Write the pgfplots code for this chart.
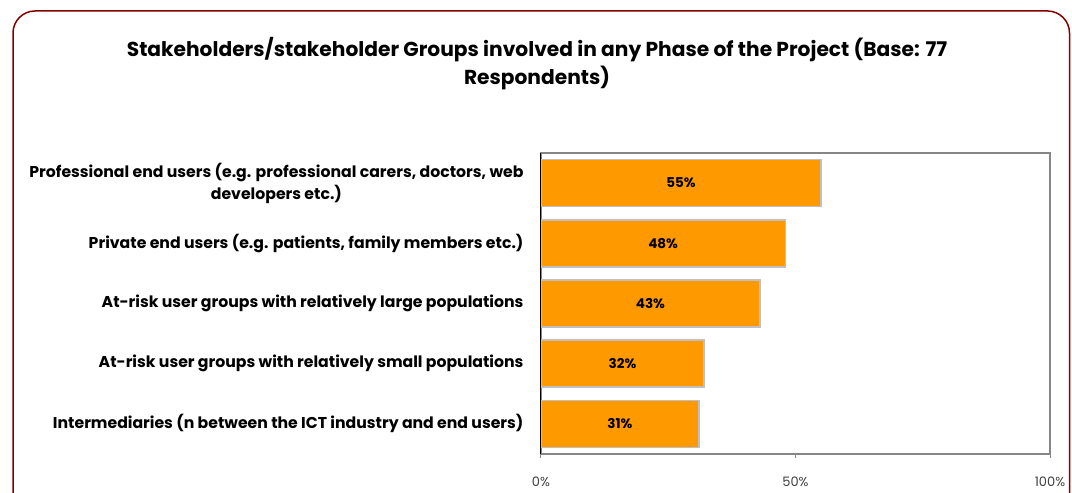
\documentclass[border=0pt]{standalone}
\usepackage{pgfplots}
\usepackage{pgfplotstable}
\pgfplotsset{compat=1.18}
\usepackage{fontspec}
\setmainfont{Poppins}
\definecolor{framered}{HTML}{800000}
\definecolor{barfill}{HTML}{FF9900}
\definecolor{barline}{HTML}{C0C0C0}
\definecolor{axgray}{HTML}{868686}
\definecolor{ticktext}{HTML}{404040}

\pgfplotstableread{
y v
0 55
1 48
2 43
3 32
4 31
}\data

\begin{document}
\begin{tikzpicture}[x=1pt,y=1pt]
\useasboundingbox (0,0) rectangle (1072,493);
\begin{scope}
\clip (0,0) rectangle (1072,493);
\draw[framered, line width=1.5pt, rounded corners=22pt] (13,-40) rectangle (1069.5,482);
\end{scope}
\node[font=\bfseries\fontsize{20.2}{28}\selectfont, align=center] at (537,429.5)
 {Stakeholders/stakeholder Groups involved in any Phase of the Project (Base: 77\\Respondents)};
\begin{axis}[
  at={(541pt,39pt)}, anchor=south west, scale only axis,
  width=509pt, height=301pt,
  xmin=0, xmax=100, ymin=-0.5, ymax=4.5, y dir=reverse,
  axis line style={axgray, line width=1.5pt},
  xtick={0,50,100}, xticklabels={0\%,50\%,100\%},
  ytick={0,1,2,3,4},
  yticklabels={{Professional end users (e.g. professional carers, doctors, web\\developers etc.)},
    {Private end users (e.g. patients, family members etc.)},
    {At-risk user groups with relatively large populations},
    {At-risk user groups with relatively small populations},
    {Intermediaries (n between the ICT industry and end users)}},
  tick align=outside, x tick style={axgray, line width=1pt}, major tick length=4pt,
  y tick style={draw=none},
  xtick pos=bottom, ytick pos=left,
  xticklabel style={font=\fontsize{13}{14}\selectfont, text=ticktext, yshift=-15pt},
  yticklabel style={align=center, font=\bfseries\fontsize{15.7}{22}\selectfont, xshift=-10pt},
  /pgf/number format/assume math mode=true,
  clip=false,
]
\addplot[xbar, bar width=47pt, fill=barfill, draw=barline, line width=1.5pt] table[x=v, y=y]{\data};
\addplot[only marks, mark=*, mark size=0pt, mark options={draw=none, fill=none},
  nodes near coords={\pgfmathprintnumber[assume math mode=true]{\pgfplotspointmeta}\%}, point meta=explicit,
  every node near coord/.append style={anchor=center, font=\bfseries\fontsize{13.5}{14}\selectfont}]
  table[x expr=\thisrow{v}/2, y=y, meta=v]{\data};
\draw[black, line width=1pt] (rel axis cs:0,0) -- (rel axis cs:0,1);
\end{axis}
\end{tikzpicture}
\end{document}
